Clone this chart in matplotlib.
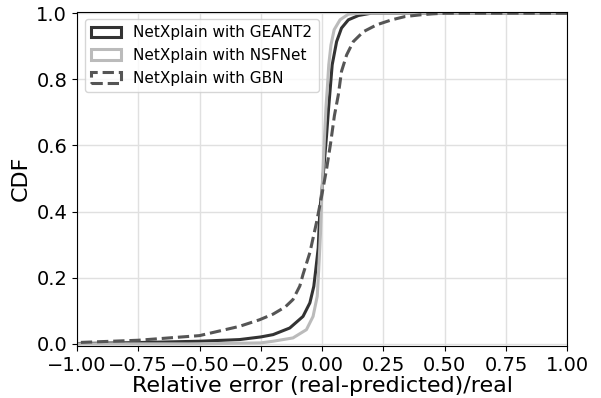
import matplotlib
matplotlib.use("Agg")
import matplotlib.pyplot as plt
from matplotlib.patches import Patch

# CDF curves (relative error vs cumulative fraction)
geant2_x = [-1.05, -1.0, -0.75, -0.5, -0.337, -0.25, -0.2, -0.132, -0.078, -0.05,
            -0.034, -0.026, -0.016, -0.009, 0.0, 0.01, 0.018, 0.026, 0.032, 0.041,
            0.059, 0.079, 0.107, 0.148, 0.2, 1.05]
geant2_y = [0.0, 0.001, 0.004, 0.008, 0.013, 0.021, 0.028, 0.048, 0.083, 0.124,
            0.174, 0.224, 0.29, 0.41, 0.47, 0.56, 0.63, 0.71, 0.763, 0.844,
            0.914, 0.955, 0.98, 0.993, 1.0, 1.0]

nsfnet_x = [-1.05, -0.5, -0.25, -0.2, -0.119, -0.064, -0.037, -0.02, -0.014, -0.007,
            -0.003, 0.0, 0.005, 0.01, 0.016, 0.022, 0.027, 0.036, 0.049, 0.073,
            0.107, 0.16, 1.05]
nsfnet_y = [0.0, 0.0, 0.003, 0.008, 0.018, 0.043, 0.083, 0.144, 0.224, 0.33,
            0.42, 0.47, 0.55, 0.63, 0.72, 0.783, 0.844, 0.904, 0.95, 0.98,
            0.997, 1.0, 1.0]

gbn_x = [-1.05, -1.0, -0.75, -0.5, -0.337, -0.255, -0.2, -0.15, -0.119, -0.091,
         -0.078, -0.05, -0.023, -0.002, 0.018, 0.034, 0.05, 0.066, 0.079, 0.1,
         0.127, 0.168, 0.223, 0.284, 0.339, 0.4, 0.45, 0.5, 1.05]
gbn_y = [0.003, 0.004, 0.011, 0.025, 0.053, 0.073, 0.09, 0.112, 0.134, 0.175,
         0.21, 0.276, 0.367, 0.447, 0.528, 0.604, 0.69, 0.753, 0.824, 0.874,
         0.914, 0.944, 0.965, 0.98, 0.99, 0.995, 0.998, 1.0, 1.0]

labels = ["NetXplain with GEANT2", "NetXplain with NSFNet", "NetXplain with GBN"]
colors = ["#333333", "#bbbbbb", "#555555"]
styles = ["-", "-", "--"]

fig, ax = plt.subplots(figsize=(6.01, 3.98), dpi=100)
fig.subplots_adjust(left=0.128, right=0.944, bottom=0.131, top=0.971)

ax.plot(geant2_x, geant2_y, color=colors[0], ls=styles[0], lw=2.2)
ax.plot(nsfnet_x, nsfnet_y, color=colors[1], ls=styles[1], lw=2.2)
ax.plot(gbn_x, gbn_y, color=colors[2], ls=styles[2], lw=2.2)

ax.set_xlim(-1.0, 1.0)
ax.set_ylim(-0.006, 1.005)
ax.set_xticks([-1.0, -0.75, -0.5, -0.25, 0.0, 0.25, 0.5, 0.75, 1.0])
ax.set_yticks([0.0, 0.2, 0.4, 0.6, 0.8, 1.0])
ax.tick_params(labelsize=14)
ax.grid(True, color="#e0e0e0", lw=1.0)
ax.set_axisbelow(True)

ax.set_xlabel("Relative error (real-predicted)/real", fontsize=16, labelpad=1)
ax.set_ylabel("CDF", fontsize=16)

# Legend with rectangle handles, like hist step outlines
handles = [Patch(facecolor="none", edgecolor=c, ls=s, lw=2.2, label=l)
           for c, s, l in zip(colors, styles, labels)]
ax.legend(handles=handles, loc="upper left", fontsize=11)

plt.savefig("out.png")
plt.close()
